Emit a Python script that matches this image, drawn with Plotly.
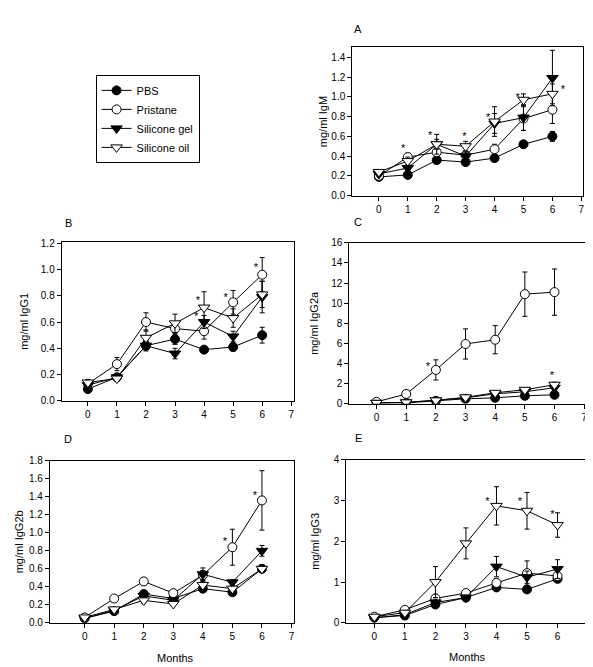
import plotly.graph_objects as go

months = [0, 1, 2, 3, 4, 5, 6]
x_ticks = [0, 1, 2, 3, 4, 5, 6, 7]
groups = ["PBS", "Pristane", "Silicone gel", "Silicone oil"]

# Panel A: IgM
igm = {
    "PBS": [0.19, 0.21, 0.36, 0.34, 0.38, 0.52, 0.60],
    "Pristane": [0.20, 0.39, 0.44, 0.41, 0.47, 0.78, 0.87],
    "Silicone gel": [0.22, 0.28, 0.52, 0.40, 0.73, 0.79, 1.19],
    "Silicone oil": [0.24, 0.35, 0.52, 0.50, 0.75, 0.97, 1.03],
}
igm_err = {
    "PBS": [0.02, 0.02, 0.03, 0.03, 0.02, 0.03, 0.05],
    "Pristane": [0.02, 0.04, 0.05, 0.04, 0.05, 0.12, 0.14],
    "Silicone gel": [0.02, 0.03, 0.05, 0.04, 0.10, 0.13, 0.28],
    "Silicone oil": [0.02, 0.04, 0.10, 0.05, 0.15, 0.06, 0.10],
}
igm_star_x = [0.84, 1.77, 2.96, 3.78, 4.80, 6.36]
igm_star_y = [0.47, 0.60, 0.59, 0.78, 0.99, 1.07]

# Panel B: IgG1
igg1 = {
    "PBS": [0.09, 0.18, 0.42, 0.47, 0.39, 0.41, 0.50],
    "Pristane": [0.13, 0.28, 0.60, 0.55, 0.53, 0.75, 0.96],
    "Silicone gel": [0.12, 0.18, 0.42, 0.36, 0.60, 0.49, 0.79],
    "Silicone oil": [0.14, 0.17, 0.48, 0.59, 0.71, 0.63, 0.81],
}
igg1_err = {
    "PBS": [0.01, 0.02, 0.03, 0.04, 0.02, 0.03, 0.06],
    "Pristane": [0.02, 0.05, 0.07, 0.05, 0.06, 0.09, 0.13],
    "Silicone gel": [0.02, 0.02, 0.04, 0.04, 0.05, 0.04, 0.12],
    "Silicone oil": [0.02, 0.02, 0.06, 0.07, 0.12, 0.07, 0.10],
}
igg1_star_x = [3.79, 3.73, 4.74, 5.78]
igg1_star_y = [0.76, 0.64, 0.78, 1.01]

# Panel C: IgG2a
igg2a = {
    "PBS": [0.10, 0.10, 0.30, 0.50, 0.60, 0.80, 0.90],
    "Pristane": [0.20, 0.98, 3.37, 5.95, 6.37, 10.9, 11.1],
    "Silicone gel": [0.10, 0.15, 0.35, 0.60, 1.00, 1.20, 1.60],
    "Silicone oil": [0.10, 0.15, 0.35, 0.65, 1.10, 1.40, 1.90],
}
igg2a_err = {
    "PBS": [0.05, 0.05, 0.05, 0.1, 0.1, 0.1, 0.15],
    "Pristane": [0.1, 0.2, 1.0, 1.5, 1.4, 2.2, 2.3],
    "Silicone gel": [0.05, 0.05, 0.05, 0.1, 0.15, 0.15, 0.2],
    "Silicone oil": [0.05, 0.05, 0.05, 0.1, 0.15, 0.2, 0.25],
}
igg2a_star_x = [1.73, 5.91]
igg2a_star_y = [3.6, 2.7]

# Panel D: IgG2b
igg2b = {
    "PBS": [0.05, 0.13, 0.32, 0.27, 0.38, 0.34, 0.60],
    "Pristane": [0.06, 0.27, 0.46, 0.33, 0.53, 0.84, 1.36],
    "Silicone gel": [0.05, 0.14, 0.30, 0.25, 0.54, 0.45, 0.80],
    "Silicone oil": [0.06, 0.15, 0.25, 0.21, 0.42, 0.38, 0.60],
}
igg2b_err = {
    "PBS": [0.01, 0.02, 0.03, 0.02, 0.03, 0.03, 0.04],
    "Pristane": [0.01, 0.03, 0.04, 0.03, 0.05, 0.20, 0.33],
    "Silicone gel": [0.01, 0.02, 0.03, 0.02, 0.07, 0.03, 0.06],
    "Silicone oil": [0.01, 0.02, 0.03, 0.02, 0.04, 0.03, 0.04],
}
igg2b_star_x = [4.75, 5.76]
igg2b_star_y = [0.90, 1.41]

# Panel E: IgG3
igg3 = {
    "PBS": [0.13, 0.18, 0.45, 0.62, 0.87, 0.82, 1.08],
    "Pristane": [0.15, 0.32, 0.60, 0.73, 0.98, 1.22, 1.15],
    "Silicone gel": [0.12, 0.20, 0.50, 0.62, 1.38, 1.12, 1.32],
    "Silicone oil": [0.15, 0.25, 1.00, 1.95, 2.87, 2.75, 2.40],
}
igg3_err = {
    "PBS": [0.02, 0.03, 0.05, 0.05, 0.06, 0.05, 0.08],
    "Pristane": [0.02, 0.04, 0.10, 0.06, 0.10, 0.30, 0.12],
    "Silicone gel": [0.02, 0.03, 0.08, 0.06, 0.25, 0.15, 0.23],
    "Silicone oil": [0.02, 0.05, 0.38, 0.38, 0.47, 0.45, 0.30],
}
igg3_star_x = [3.70, 4.77, 5.83]
igg3_star_y = [2.97, 2.95, 2.63]

FONT = "Arial, Liberation Sans, sans-serif"
W, H = 593, 667

symbols = {
    "PBS": ("circle", "black"),
    "Pristane": ("circle", "white"),
    "Silicone gel": ("triangle-down", "black"),
    "Silicone oil": ("triangle-down", "white"),
}

panels = [
    # letter, data, err, starx, stary, ytitle, xpix, ypix, yrange, dtick, fmt, xrange, letterpos, months, standoff
    ("A", igm, igm_err, igm_star_x, igm_star_y, "mg/ml IgM", (346, 578), (34, 185), (0, 1.5), 0.2, ".1f", (-0.92, 7.06), (352, 15), None, 1),
    ("B", igg1, igg1_err, igg1_star_x, igg1_star_y, "mg/ml IgG1", (54, 287), (232, 394), (0, 1.21), 0.2, ".1f", (-0.9, 7.08), (61, 213), None, 9),
    ("C", igg2a, igg2a_err, igg2a_star_x, igg2a_star_y, "mg/ml IgG2a", (343, 580), (233, 397), (0, 16), 2, "d", (-0.92, 7.03), (352, 212), None, 10),
    ("D", igg2b, igg2b_err, igg2b_star_x, igg2b_star_y, "mg/ml IgG2b", (42, 287), (455, 620), (0, 1.8), 0.2, ".1f", (-1.18, 7.07), (60, 433), (168, 656), 3),
    ("E", igg3, igg3_err, igg3_star_x, igg3_star_y, "mg/ml IgG3", (340, 583), (454, 620), (0, 4), 1, "d", (-0.92, 7.0), (352, 432), (462, 655), 11),
]

fig = go.Figure()
annotations = []
layout = {}
for i, (letter, data, err, sx, sy, ytitle, xp, yp, yr, dt, fmt, xr, lpos, mpos, so) in enumerate(panels):
    n = i + 1
    xa = "x" if n == 1 else f"x{n}"
    ya = "y" if n == 1 else f"y{n}"
    xkey = "xaxis" if n == 1 else f"xaxis{n}"
    ykey = "yaxis" if n == 1 else f"yaxis{n}"
    for g in groups:
        sym, fill = symbols[g]
        fig.add_trace(go.Scatter(
            x=months, y=data[g], name=g, xaxis=xa, yaxis=ya,
            mode="lines+markers",
            line=dict(color="black", width=1),
            marker=dict(symbol=sym, size=10 if "triangle" in sym else 9, color=fill,
                        line=dict(color="black", width=1)),
            error_y=dict(type="data", array=err[g], visible=True, color="black",
                         thickness=1, width=2.5),
            showlegend=(n == 1), legendgroup=g,
        ))
    fig.add_trace(go.Scatter(
        x=sx, y=sy, mode="text", text=["*"] * len(sx), xaxis=xa, yaxis=ya,
        textfont=dict(family=FONT, size=11, color="black"), showlegend=False,
        hoverinfo="skip",
    ))
    layout[xkey] = dict(
        domain=[xp[0] / W, xp[1] / W], anchor=ya, range=list(xr),
        tickmode="array", tickvals=x_ticks, showgrid=False, zeroline=False,
        showline=True, linecolor="black", linewidth=1, mirror=True,
        ticks="outside", ticklen=4, tickcolor="black",
        tickfont=dict(family=FONT, size=10, color="black"),
    )
    layout[ykey] = dict(
        domain=[1 - yp[1] / H, 1 - yp[0] / H], anchor=xa, range=list(yr),
        tickmode="linear", tick0=0, dtick=dt, tickformat=fmt,
        showgrid=False, zeroline=False,
        showline=True, linecolor="black", linewidth=1, mirror=True,
        ticks="outside", ticklen=4, tickcolor="black",
        tickfont=dict(family=FONT, size=10, color="black"),
        title=dict(text=ytitle, font=dict(family=FONT, size=11, color="black"), standoff=so),
    )
    annotations.append(dict(
        text=letter, x=lpos[0] / W, y=1 - lpos[1] / H, xref="paper", yref="paper",
        showarrow=False, font=dict(family=FONT, size=11, color="black"),
        xanchor="center", yanchor="middle",
    ))
    if mpos:
        annotations.append(dict(
            text="Months", x=mpos[0] / W, y=1 - mpos[1] / H, xref="paper", yref="paper",
            showarrow=False, font=dict(family=FONT, size=11, color="black"),
            xanchor="center", yanchor="middle",
        ))

fig.update_layout(
    width=W, height=H,
    margin=dict(l=0, r=0, t=0, b=0),
    paper_bgcolor="white", plot_bgcolor="white",
    font=dict(family=FONT, size=10, color="black"),
    annotations=annotations,
    legend=dict(
        x=88 / W, y=1 - 62 / H, xanchor="left", yanchor="top",
        bordercolor="black", borderwidth=1, bgcolor="white",
        font=dict(family=FONT, size=11, color="black"),
        tracegroupgap=0, itemwidth=30,
    ),
    **layout,
)

fig.write_html("out.html")
